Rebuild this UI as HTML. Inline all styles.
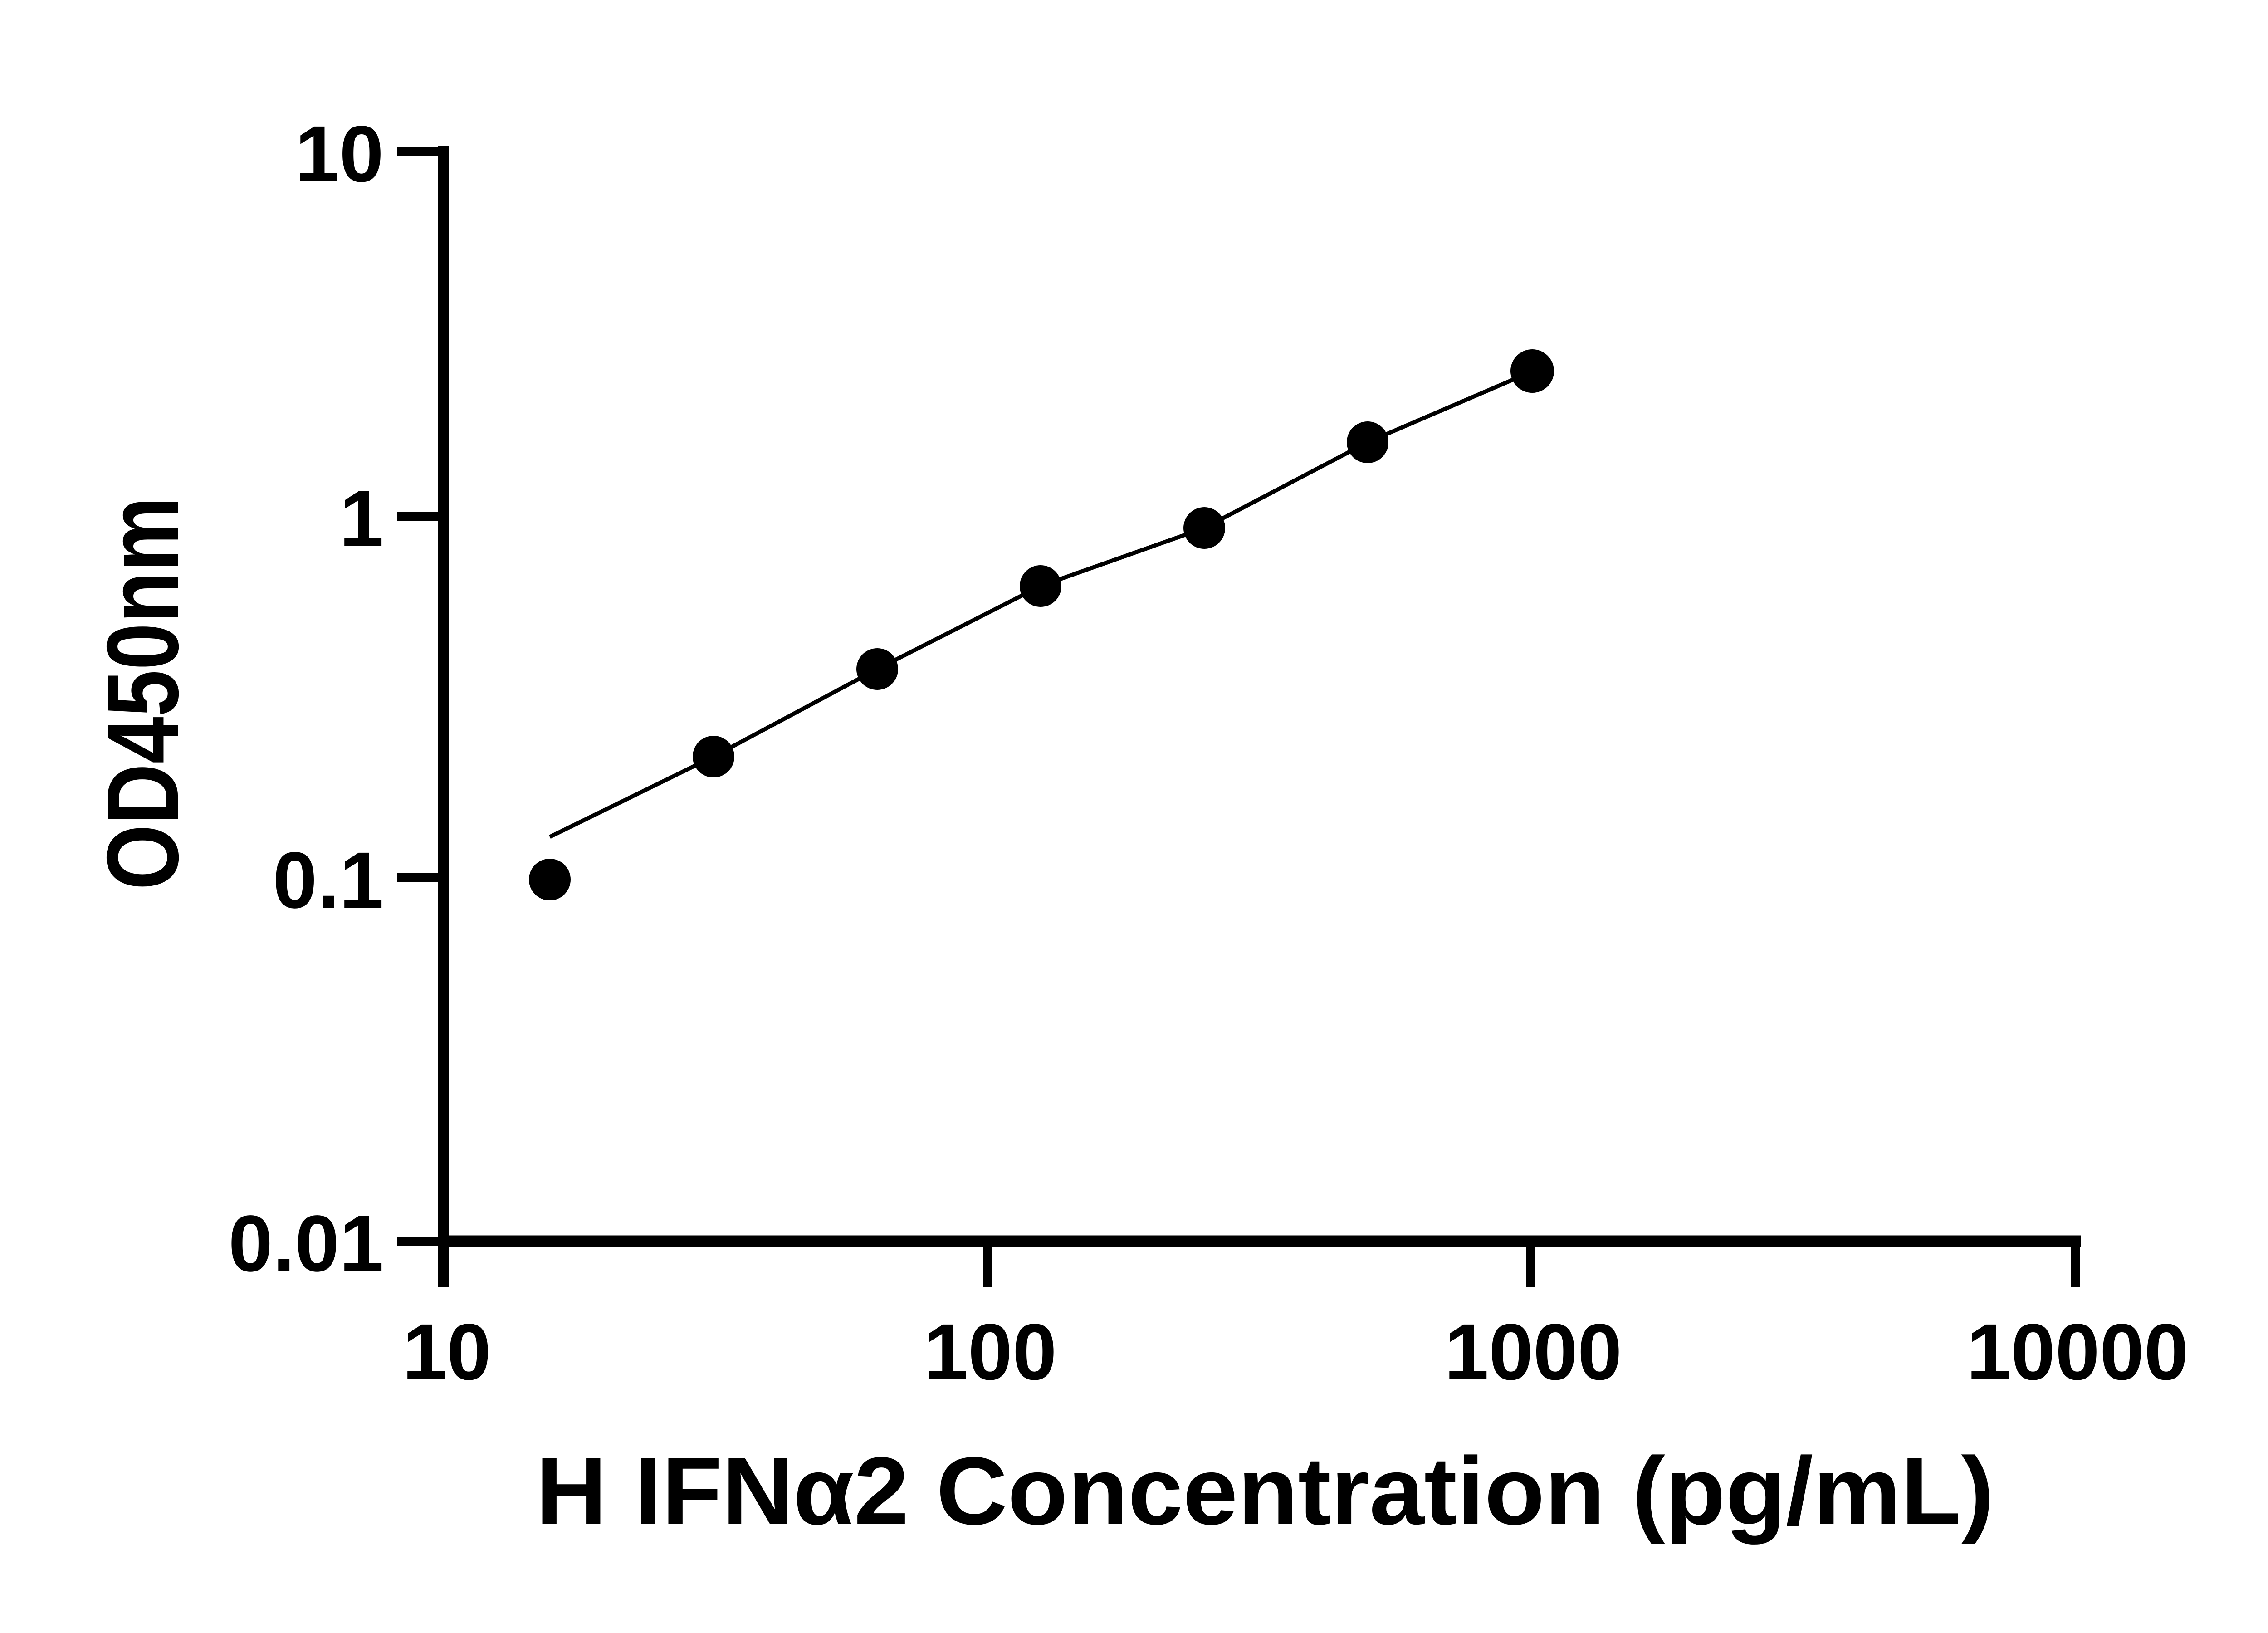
<!DOCTYPE html>
<html><head><meta charset="utf-8"><style>
html,body{margin:0;padding:0;background:#fff;}
svg{display:block;}
text{font-family:"Liberation Sans",Arial,sans-serif;font-weight:bold;fill:#000;}
</style></head><body>
<svg width="5130" height="3600" viewBox="0 0 5130 3600" xmlns="http://www.w3.org/2000/svg">
<rect width="5130" height="3600" fill="#fff"/>
<!-- axes -->
<line x1="978" y1="321" x2="978" y2="2838" stroke="#000" stroke-width="24"/>
<line x1="966" y1="2736" x2="4588" y2="2736" stroke="#000" stroke-width="25"/>
<!-- y ticks -->
<g stroke="#000" stroke-width="20">
<line x1="876" y1="333" x2="990" y2="333"/>
<line x1="876" y1="1138" x2="978" y2="1138"/>
<line x1="876" y1="1935" x2="978" y2="1935"/>
<line x1="876" y1="2736" x2="978" y2="2736"/>
<line x1="980" y1="2736" x2="980" y2="2838"/>
<line x1="2178" y1="2736" x2="2178" y2="2838"/>
<line x1="3375" y1="2736" x2="3375" y2="2838"/>
<line x1="4576" y1="2724" x2="4576" y2="2838"/>
</g>
<!-- y tick labels -->
<g font-size="176" text-anchor="end">
<text x="846" y="400">10</text>
<text x="846" y="1204">1</text>
<text x="846" y="2001">0.1</text>
<text x="846" y="2802">0.01</text>
</g>
<!-- x tick labels -->
<g font-size="176" text-anchor="middle">
<text x="985" y="3041">10</text>
<text x="2183" y="3041">100</text>
<text x="3380" y="3041">1000</text>
<text x="4580" y="3041">10000</text>
</g>
<!-- titles -->
<text x="1181" y="3360" font-size="212" textLength="3215" lengthAdjust="spacingAndGlyphs">H IFNα2 Concentration (pg/mL)</text>
<text transform="translate(392,1962) rotate(-90)" font-size="225" textLength="867" lengthAdjust="spacingAndGlyphs">OD450nm</text>
<!-- fit line -->
<polyline fill="none" stroke="#000" stroke-width="9" points="1212,1845 1573,1668 1934,1475 2294,1292 2655,1164 3015,975 3340,835"/>
<!-- points -->
<g fill="#000">
<circle cx="1212" cy="1939" r="46"/>
<circle cx="1573" cy="1668" r="46"/>
<circle cx="1934" cy="1475" r="46"/>
<circle cx="2294" cy="1292" r="46"/>
<circle cx="2655" cy="1164" r="46"/>
<circle cx="3015" cy="975" r="46"/>
<circle cx="3378" cy="818" r="48"/>
</g>
</svg>
</body></html>
